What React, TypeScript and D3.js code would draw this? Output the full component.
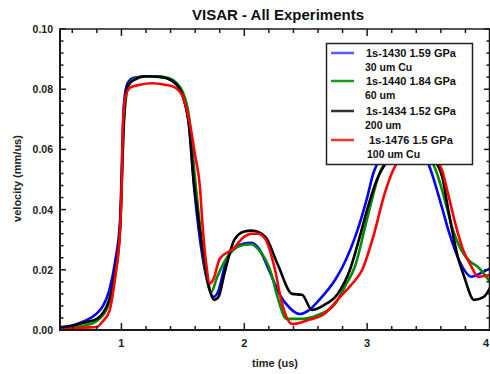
import React, { useEffect, useRef } from 'react';
import * as d3 from 'd3';

type Pt = [number, number];

// time (us), velocity (mm/us)
const shot1430: Pt[] = [
  [0.5, 0.001], [0.6, 0.0015], [0.7, 0.003], [0.8, 0.0055], [0.85, 0.008], [0.9, 0.013],
  [0.95, 0.023], [0.99, 0.037], [1.0, 0.05], [1.02, 0.075], [1.05, 0.082], [1.1, 0.0838],
  [1.2, 0.0843], [1.3, 0.0843], [1.4, 0.083], [1.45, 0.0815], [1.5, 0.078], [1.55, 0.068],
  [1.59, 0.048], [1.61, 0.04], [1.65, 0.027], [1.7, 0.016], [1.75, 0.011], [1.79, 0.013],
  [1.84, 0.021], [1.9, 0.0265], [2.0, 0.0287], [2.06, 0.029], [2.12, 0.027], [2.2, 0.02],
  [2.29, 0.0117], [2.37, 0.0073], [2.45, 0.0053], [2.53, 0.0067], [2.61, 0.01], [2.74, 0.0167],
  [2.8, 0.021], [2.92, 0.033], [3.0, 0.044], [3.05, 0.052], [3.18, 0.06], [3.3, 0.063],
  [3.4, 0.062], [3.51, 0.054], [3.6, 0.042], [3.67, 0.032], [3.75, 0.023], [3.85, 0.0177],
  [3.93, 0.019], [4.0, 0.0205],
];

const shot1440: Pt[] = [
  [0.5, 0.0005], [0.7, 0.0015], [0.8, 0.003], [0.9, 0.009], [0.95, 0.018], [0.99, 0.034],
  [1.02, 0.068], [1.05, 0.08], [1.1, 0.0835], [1.2, 0.0843], [1.35, 0.084], [1.45, 0.082],
  [1.5, 0.079], [1.55, 0.071], [1.6, 0.05], [1.63, 0.038], [1.68, 0.021], [1.73, 0.0125],
  [1.78, 0.0177], [1.88, 0.0253], [2.0, 0.0283], [2.06, 0.0285], [2.11, 0.027], [2.22, 0.0187],
  [2.27, 0.011], [2.345, 0.0037], [2.47, 0.0037], [2.6, 0.005], [2.74, 0.0087], [2.82, 0.0145],
  [2.9, 0.021], [3.0, 0.037], [3.1, 0.052], [3.2, 0.058], [3.35, 0.062], [3.45, 0.06],
  [3.56, 0.053], [3.62, 0.045], [3.7, 0.033], [3.76, 0.027], [3.83, 0.023], [3.9, 0.021],
  [4.0, 0.016],
];

const shot1434: Pt[] = [
  [0.5, 0.0005], [0.7, 0.0025], [0.8, 0.0037], [0.9, 0.01], [0.95, 0.02], [0.99, 0.035],
  [1.02, 0.07], [1.05, 0.081], [1.1, 0.083], [1.2, 0.0843], [1.35, 0.0838], [1.45, 0.0815],
  [1.5, 0.0775], [1.55, 0.068], [1.59, 0.049], [1.62, 0.039], [1.67, 0.024], [1.755, 0.01],
  [1.79, 0.011], [1.84, 0.019], [1.92, 0.03], [2.0, 0.0327], [2.06, 0.033], [2.17, 0.031],
  [2.27, 0.022], [2.39, 0.012], [2.47, 0.0117], [2.55, 0.0067], [2.65, 0.0083], [2.76, 0.012],
  [2.86, 0.02], [2.94, 0.031], [3.0, 0.04], [3.08, 0.05], [3.16, 0.056], [3.35, 0.064],
  [3.45, 0.061], [3.52, 0.058], [3.61, 0.051], [3.66, 0.04], [3.74, 0.024], [3.79, 0.0177],
  [3.87, 0.01], [3.95, 0.011], [4.0, 0.014],
];

const shot1476: Pt[] = [
  [0.5, 0.0], [0.7, 0.0008], [0.8, 0.001], [0.85, 0.003], [0.9, 0.006], [0.95, 0.018],
  [0.99, 0.034], [1.0, 0.045], [1.01, 0.065], [1.03, 0.077], [1.07, 0.0805], [1.15, 0.0815],
  [1.25, 0.082], [1.35, 0.0815], [1.43, 0.0807], [1.5, 0.0775], [1.55, 0.07], [1.6, 0.058],
  [1.64, 0.047], [1.66, 0.035], [1.69, 0.022], [1.72, 0.0155], [1.75, 0.017], [1.8, 0.0237],
  [1.91, 0.027], [2.0, 0.031], [2.06, 0.032], [2.11, 0.032], [2.17, 0.0303], [2.25, 0.02],
  [2.3, 0.01], [2.39, 0.002], [2.52, 0.0033], [2.65, 0.0053], [2.78, 0.011], [2.87, 0.015],
  [2.96, 0.02], [3.05, 0.031], [3.14, 0.045], [3.21, 0.053], [3.3, 0.059], [3.42, 0.062],
  [3.55, 0.058], [3.61, 0.053], [3.66, 0.045], [3.72, 0.035], [3.78, 0.0267], [3.85, 0.021],
  [3.9, 0.0177], [4.0, 0.0183],
];

const traces = [shot1430, shot1440, shot1434, shot1476];
const traceColors = ['#0000ff', '#008c00', '#000000', '#ff0000'];
const legendLine1 = ['1s-1430 1.59 GPa', '1s-1440 1.84 GPa', '1s-1434 1.52 GPa', '1s-1476 1.5 GPa'];
const legendLine2 = ['30 um Cu', '60 um', '200 um', '100 um Cu'];
const legendSwatch = ['#5a5aff', '#1a9a1a', '#333333', '#ff3030'];

const xMajor = [1, 2, 3, 4];
const yMajor = [0, 0.02, 0.04, 0.06, 0.08, 0.1];

export default function App() {
  const svgRef = useRef<SVGSVGElement>(null);

  useEffect(() => {
    if (!svgRef.current) return;
    const svg = d3.select(svgRef.current);
    svg.selectAll('*').remove();

    const left = 60, right = 490, top = 29, bottom = 330;
    const x = d3.scaleLinear().domain([0.5, 4]).range([left, right]);
    const y = d3.scaleLinear().domain([0, 0.1]).range([bottom, top]);
    const font = "'Liberation Sans', Arial, sans-serif";
    const axisColor = '#1a1a1a';

    svg.append('rect').attr('width', 490).attr('height', 374).attr('fill', '#fff');

    // traces
    const line = d3.line<Pt>()
      .x(d => x(d[0]))
      .y(d => y(d[1]))
      .curve(d3.curveMonotoneX);

    const g = svg.append('g');
    traces.forEach((data, i) => {
      g.append('path')
        .attr('d', line(data) || '')
        .attr('fill', 'none')
        .attr('stroke', traceColors[i])
        .attr('stroke-width', 2.6)
        .attr('stroke-linejoin', 'round');
    });

    // frame + ticks
    const ax = svg.append('g').attr('stroke', axisColor);
    ax.append('line').attr('x1', left).attr('x2', left).attr('y1', top).attr('y2', bottom + 1).attr('stroke-width', 2);
    ax.append('line').attr('x1', left - 1).attr('x2', right).attr('y1', bottom).attr('y2', bottom).attr('stroke-width', 2);
    ax.append('line').attr('x1', left - 1).attr('x2', right).attr('y1', top).attr('y2', top).attr('stroke-width', 1.5);
    ax.append('line').attr('x1', right - 0.5).attr('x2', right - 0.5).attr('y1', top).attr('y2', bottom).attr('stroke-width', 1.5);

    const xTicks = d3.range(0.6, 4.001, 0.2);
    xTicks.forEach(t => {
      const major = xMajor.some(m => Math.abs(m - t) < 1e-6);
      const len = major ? 7 : 4;
      ax.append('line').attr('x1', x(t)).attr('x2', x(t)).attr('y1', bottom).attr('y2', bottom - len).attr('stroke-width', 1.5);
      ax.append('line').attr('x1', x(t)).attr('x2', x(t)).attr('y1', top).attr('y2', top + len).attr('stroke-width', 1.5);
    });
    const yTicks = d3.range(0, 0.1001, 0.004);
    yTicks.forEach(v => {
      const major = yMajor.some(m => Math.abs(m - v) < 1e-6);
      const len = major ? 6 : 3.5;
      ax.append('line').attr('x1', left).attr('x2', left + len).attr('y1', y(v)).attr('y2', y(v)).attr('stroke-width', 1.5);
      ax.append('line').attr('x1', right).attr('x2', right - len).attr('y1', y(v)).attr('y2', y(v)).attr('stroke-width', 1.5);
    });

    // tick labels
    svg.append('g').selectAll('text').data(xMajor).join('text')
      .attr('x', d => (d === 4 ? x(d) - 1 : x(d)))
      .attr('y', bottom + 17)
      .attr('text-anchor', d => (d === 4 ? 'end' : 'middle'))
      .style('font-family', font).style('font-size', '11px').style('font-weight', 'bold')
      .attr('fill', '#222')
      .text(d => d3.format('d')(d));

    svg.append('g').selectAll('text').data(yMajor).join('text')
      .attr('x', left - 7).attr('y', d => y(d) + 4)
      .attr('text-anchor', 'end')
      .style('font-family', font).style('font-size', '10.5px').style('font-weight', 'bold')
      .attr('fill', '#222')
      .text(d => d3.format('.2f')(d));

    // titles
    svg.append('text')
      .attr('x', 278).attr('y', 20)
      .attr('text-anchor', 'middle')
      .style('font-family', font).style('font-size', '15px').style('font-weight', 'bold')
      .attr('fill', '#111')
      .text('VISAR - All Experiments');

    svg.append('text')
      .attr('x', 275).attr('y', 367)
      .attr('text-anchor', 'middle')
      .style('font-family', font).style('font-size', '11px').style('font-weight', 'bold')
      .attr('fill', '#222')
      .text('time (us)');

    svg.append('text')
      .attr('transform', `translate(21,${(top + bottom) / 2 - 1}) rotate(-90)`)
      .attr('text-anchor', 'middle')
      .style('font-family', font).style('font-size', '11px').style('font-weight', 'bold')
      .attr('fill', '#222')
      .text('velocity (mm/us)');

    // legend
    const lg = svg.append('g');
    lg.append('rect')
      .attr('x', 326.5).attr('y', 43.5).attr('width', 146).attr('height', 121)
      .attr('fill', '#fff').attr('stroke', '#222').attr('stroke-width', 1.5);
    const rowY = [53, 81, 111, 140];
    legendLine1.forEach((label, i) => {
      lg.append('line')
        .attr('x1', 331).attr('x2', 354).attr('y1', rowY[i]).attr('y2', rowY[i])
        .attr('stroke', legendSwatch[i]).attr('stroke-width', 2.5);
      lg.append('text')
        .attr('x', i === 3 ? 369 : 366).attr('y', rowY[i] + 4)
        .style('font-family', font).style('font-size', '11px').style('font-weight', 'bold')
        .attr('fill', '#111')
        .text(label);
      lg.append('text')
        .attr('x', i === 3 ? 367 : 365).attr('y', rowY[i] + 18)
        .style('font-family', font).style('font-size', '10.5px').style('font-weight', 'bold')
        .attr('fill', '#111')
        .text(legendLine2[i]);
    });
  }, []);

  return (
    <svg
      ref={svgRef}
      width={490}
      height={374}
      style={{ position: 'absolute', left: 0, top: 0, display: 'block' }}
    />
  );
}
